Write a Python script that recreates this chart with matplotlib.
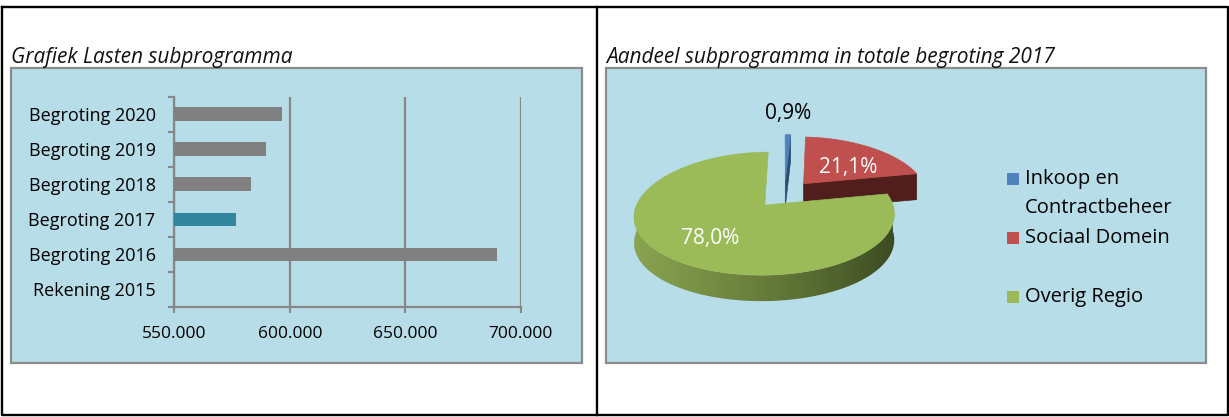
import numpy as np
import matplotlib
matplotlib.use("Agg")
import matplotlib.pyplot as plt
from matplotlib.patches import Rectangle, Polygon
from matplotlib.ticker import FuncFormatter, FixedLocator

# ---------------- data ----------------
bar_categories = ["Rekening 2015", "Begroting 2016", "Begroting 2017",
                  "Begroting 2018", "Begroting 2019", "Begroting 2020"]
bar_values = [np.nan, 689700, 576700, 583200, 589700, 596600]
bar_highlight = "Begroting 2017"
x_ticks = [550000, 600000, 650000, 700000]

pie_labels = ["Inkoop en\nContractbeheer", "Sociaal Domein", "Overig Regio"]
pie_shares = [0.9, 21.1, 78.0]
pie_texts = ["0,9%", "21,1%", "78,0%"]

title_left = "Grafiek Lasten subprogramma"
title_right = "Aandeel subprogramma in totale begroting 2017"

# ---------------- style ----------------
W, H = 1229, 417
FONT = "Open Sans"
plt.rcParams["font.family"] = [FONT, "DejaVu Sans"]
PANEL = "#B7DDE8"
PANEL_EDGE = "#8C8C8C"
GRID = "#878787"
BAR_GRAY = "#808080"
BAR_TEAL = "#31859C"
PIE_TOP = ["#4F81BD", "#C0504D", "#9BBB59"]
PIE_SIDE = ["#2C4C74", "#4F1E1D", None]
GREEN_LIGHT = np.array([138, 164, 80]) / 255
GREEN_DARK = np.array([58, 73, 32]) / 255

fig = plt.figure(figsize=(W / 100, H / 100), dpi=100)

# background layer in pixel coordinates
bg = fig.add_axes([0, 0, 1, 1])
bg.set_xlim(0, W)
bg.set_ylim(H, 0)
bg.axis("off")
for x0, y0, x1, y1 in [(11, 67.7, 582.3, 362.7), (605.7, 67.7, 1206, 362.7)]:
    bg.add_patch(Rectangle((x0, y0), x1 - x0, y1 - y0, facecolor=PANEL,
                           edgecolor=PANEL_EDGE, lw=1.6))
frame_kw = dict(color="black", lw=1.7, solid_capstyle="projecting")
bg.plot([1.5, 1227.5, 1227.5, 1.5, 1.5], [6.5, 6.5, 415.3, 415.3, 6.5], **frame_kw)
bg.plot([596.7, 596.7], [6.5, 415.3], **frame_kw)

fig.text(11 / W, 1 - 63 / H, title_left, fontsize=15, style="italic",
         va="baseline", ha="left", color="#111111")
fig.text(606 / W, 1 - 63 / H, title_right, fontsize=15, style="italic",
         va="baseline", ha="left", color="#111111")

# ---------------- bar chart ----------------
axb = fig.add_axes([174.3 / W, 1 - 307 / H, (520.7 - 174.3) / W, (307 - 96.7) / H])
axb.set_facecolor("none")
ypos = np.arange(len(bar_categories))
colors = [BAR_TEAL if c == bar_highlight else BAR_GRAY for c in bar_categories]
axb.barh(ypos, bar_values, height=0.39, color=colors, zorder=3)
axb.set_xlim(x_ticks[0], x_ticks[-1])
axb.set_ylim(-0.5, len(bar_categories) - 0.5)
axb.set_axisbelow(True)
axb.xaxis.set_major_locator(FixedLocator(x_ticks))
axb.xaxis.set_major_formatter(FuncFormatter(lambda v, p: f"{int(v):,}".replace(",", ".")))
axb.grid(axis="x", color=GRID, lw=1.6)
axb.grid(axis="y", visible=False)
axb.set_yticks(ypos)
axb.set_yticklabels(bar_categories)
axb.set_yticks(np.arange(-0.5, len(bar_categories)), minor=True)
axb.tick_params(axis="y", which="major", length=0, pad=13.5, labelsize=13)
axb.tick_params(axis="y", which="minor", length=4.5, width=1.5, color=GRID)
axb.tick_params(axis="x", which="major", length=4.5, width=1.5, color=GRID,
                pad=9, labelsize=12.5)
for s in ["top", "right"]:
    axb.spines[s].set_visible(False)
for s in ["left", "bottom"]:
    axb.spines[s].set_color(GRID)
    axb.spines[s].set_linewidth(1.6)

# ---------------- 3D pie ----------------
axp = fig.add_axes([605.7 / W, 1 - 362.7 / H, (1206 - 605.7) / W, (362.7 - 67.7) / H])
axp.axis("off")

# view parameters (layout): centre, radius, tilt, perspective, depth, explosion
cx, cy, R, k, q, p, D, explode = 784.5, 194.0, 124.0, 0.47, 0.146, 0.18, 26.0, 30.0


def proj(u, v, z=0.0):
    s = 1 - p * v / R
    return cx + u * s, cy - k * v * (1 - q * v / R) + z * D


frac = np.array(pie_shares) / np.sum(pie_shares)
ends = np.cumsum(frac) * 360
starts = np.concatenate([[0], ends[:-1]])
mids = (starts + ends) / 2

apex_uv = [(explode * np.sin(np.radians(m)), explode * np.cos(np.radians(m))) for m in mids]


def rim_uv(i, th):
    t = np.radians(th)
    return apex_uv[i][0] + R * np.sin(t), apex_uv[i][1] + R * np.cos(t)


order = np.argsort([-a[1] for a in apex_uv])  # back first
zc = 1
for i in order:
    s, e = starts[i], ends[i]
    au, av = apex_uv[i]
    side_col = PIE_SIDE[i]
    # radial faces facing the viewer
    for th, nrm in [(s, s - 90), (e, e + 90)]:
        if np.cos(np.radians(nrm)) < -1e-6:
            ru, rv = rim_uv(i, th)
            col = side_col if side_col else GREEN_DARK
            axp.add_patch(Polygon([proj(au, av), proj(ru, rv), proj(ru, rv, 1), proj(au, av, 1)],
                                  closed=True, facecolor=col, edgecolor=col, lw=0.5, zorder=zc))
    # outer wall (front half), shaded with a horizontal gradient
    a0, a1 = max(s, 90), min(e, 270)
    if a1 > a0:
        angs = np.linspace(a0, a1, 240)
        top = [proj(*rim_uv(i, a)) for a in angs]
        bot = [proj(*rim_uv(i, a), 1) for a in angs[::-1]]
        wall = Polygon(top + bot, closed=True, facecolor="none", edgecolor="none", zorder=zc)
        axp.add_patch(wall)
        xs = np.array([pt[0] for pt in top + bot])
        ys = np.array([pt[1] for pt in top + bot])
        xl, xr = xs.min() - 1, xs.max() + 1
        if side_col is None:
            xx = np.linspace(0, 1, 300)
            w = (1 - xx) ** 0.85
            grad = GREEN_DARK[None, :] + (GREEN_LIGHT - GREEN_DARK)[None, :] * w[:, None]
            img = np.repeat(grad[None, :, :], 2, axis=0)
        else:
            img = np.ones((2, 2, 3)) * np.array(matplotlib.colors.to_rgb(side_col))
        im = axp.imshow(img, extent=(xl, xr, ys.max() + 1, ys.min() - 1), aspect="auto",
                        interpolation="bilinear", zorder=zc)
        im.set_clip_path(wall)
    zc += 1
    # top surface
    angs = np.linspace(s, e, max(int((e - s) * 2), 2) + 1)
    pts = [proj(au, av)] + [proj(*rim_uv(i, a)) for a in angs]
    axp.add_patch(Polygon(pts, closed=True, facecolor=PIE_TOP[i], edgecolor=PIE_TOP[i],
                          lw=0.5, zorder=zc))
    zc += 1

# data labels
label_r = [None, 0.57, 0.66]
label_nudge = [(0, 15.5), (3.5, -4), (4, 0)]   # points
for i in range(len(pie_shares)):
    au, av = apex_uv[i]
    t = np.radians(mids[i])
    if label_r[i] is None:  # outside label, above the rim
        xy = proj(*rim_uv(i, mids[i]))
        col = "black"
    else:
        xy = proj(au + label_r[i] * R * np.sin(t), av + label_r[i] * R * np.cos(t))
        col = "white"
    axp.annotate(pie_texts[i], xy=xy, xytext=label_nudge[i], textcoords="offset points",
                 ha="center", va="center", fontsize=15, color=col, zorder=20)

# legend
legend_y = [178.5, 237.5, 297]
line_gap = 29
for i, lab in enumerate(pie_labels):
    y0 = legend_y[i]
    axp.add_patch(Rectangle((1007, y0 - 6), 12, 12, facecolor=PIE_TOP[i], edgecolor="none"))
    for kk, line in enumerate(lab.split("\n")):
        axp.text(1025, y0 + kk * line_gap, line, ha="left", va="center",
                 fontsize=14.5, color="black")

axp.set_xlim(605.7, 1206)
axp.set_ylim(362.7, 67.7)

fig.savefig("out.png", dpi=100)
